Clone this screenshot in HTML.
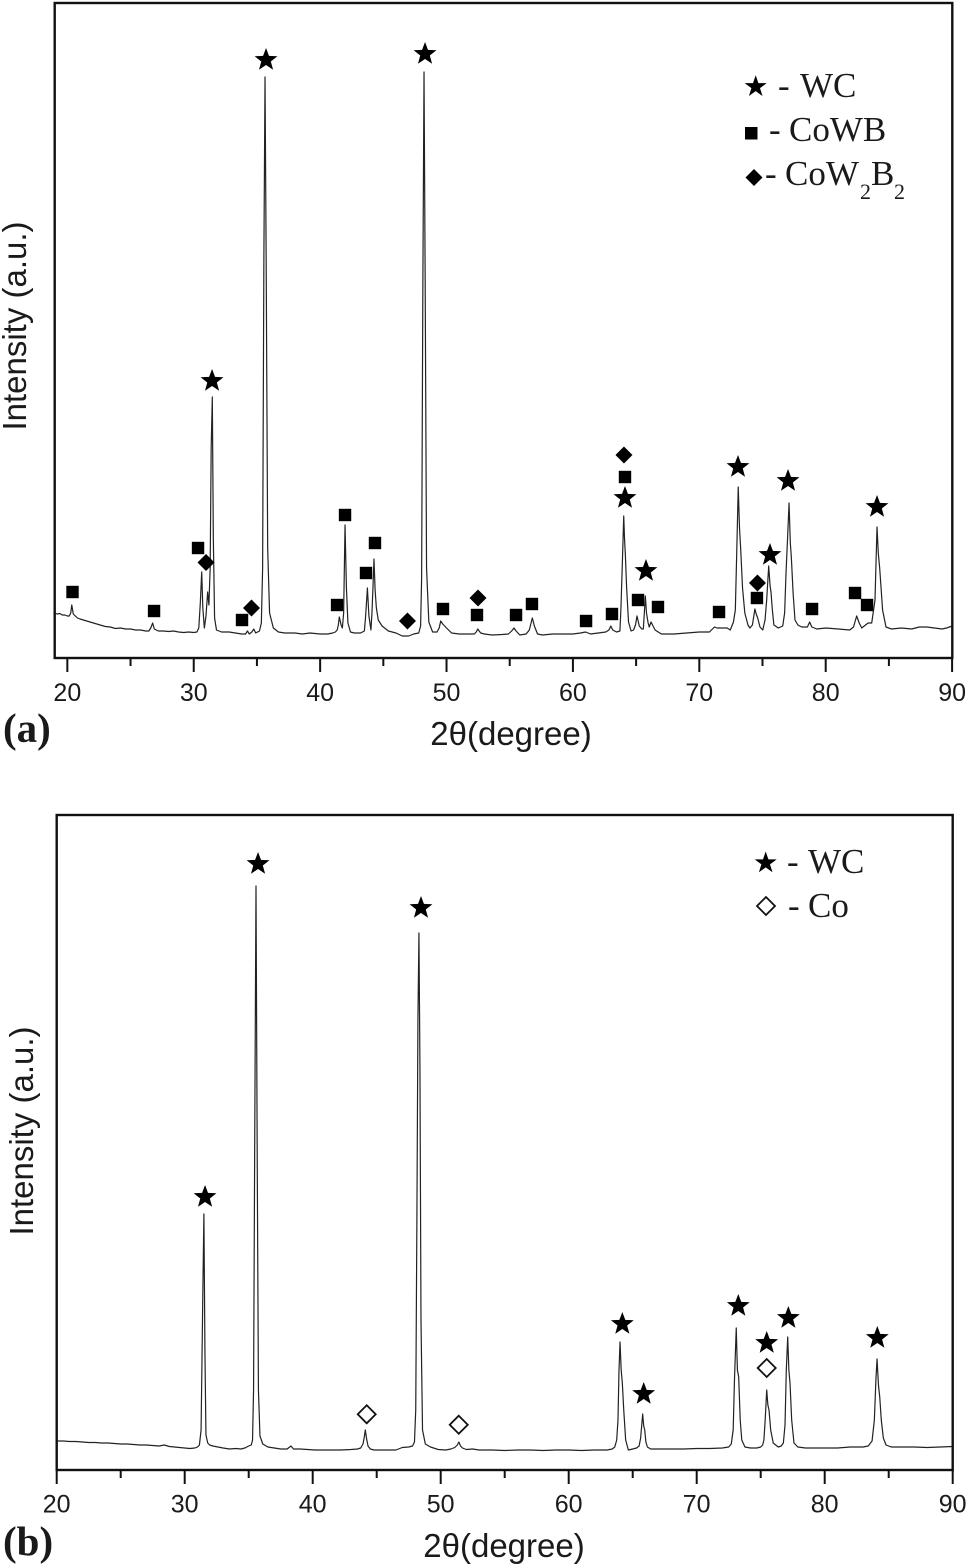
<!DOCTYPE html>
<html lang="en">
<head>
<meta charset="utf-8">
<title>XRD patterns (a) and (b)</title>
<style>
html,body{margin:0;padding:0;background:#fff;width:968px;height:1567px;overflow:hidden}
svg{display:block;filter:blur(0.35px)}
.sans{font-family:"Liberation Sans",Arial,sans-serif;fill:#1a1a1a}
.serif{font-family:"Liberation Serif","Times New Roman",serif;fill:#1a1a1a}
</style>
</head>
<body>
<svg id="figure" xmlns="http://www.w3.org/2000/svg" width="968" height="1567" viewBox="0 0 968 1567">
  <rect width="968" height="1567" fill="#fff"/>
  <g id="panelA"></g>
  <g id="panelB"></g>

  <text class="serif" x="3" y="742" font-size="41" font-weight="bold">(a)</text>
  <text class="serif" x="3" y="1555" font-size="41" font-weight="bold">(b)</text>
  <text class="sans" x="511" y="745" font-size="33" text-anchor="middle">2θ(degree)</text>
  <text class="sans" x="504" y="1557" font-size="33" text-anchor="middle">2θ(degree)</text>
  <text class="sans" font-size="33" text-anchor="middle" transform="translate(26,326) rotate(-90)">Intensity (a.u.)</text>
  <text class="sans" font-size="33" text-anchor="middle" transform="translate(33,1131) rotate(-90)">Intensity (a.u.)</text>

  <g>
    <g>
      <polygon points="755.7,75.2 758.4,83.1 766.7,83.1 760,88.1 762.5,96 755.7,91.1 748.9,96 751.4,88.1 744.7,83.1 753,83.1" fill="#000"/>
      <text class="serif" font-size="35" y="97"><tspan x="778">-</tspan><tspan x="800">WC</tspan></text>
    </g>
    <g>
      <rect x="745" y="127" width="12.5" height="12.5" fill="#000"/>
      <text class="serif" font-size="35" y="141"><tspan x="769">-</tspan><tspan x="789">CoWB</tspan></text>
    </g>
    <g>
      <polygon points="754,169 762.5,177.5 754,186 745.5,177.5" fill="#000"/>
      <text class="serif" font-size="35" y="185"><tspan x="765">-</tspan><tspan x="785">CoW</tspan><tspan x="860" y="199" font-size="22">2</tspan><tspan x="871" y="185">B</tspan><tspan x="894" y="199" font-size="22">2</tspan></text>
    </g>
  </g>

  <g>
    <g>
      <polygon points="765.7,851.5 768.4,859.4 776.7,859.4 770,864.4 772.5,872.3 765.7,867.4 758.9,872.3 761.4,864.4 754.7,859.4 763,859.4" fill="#000"/>
      <text class="serif" font-size="35" y="873"><tspan x="787">-</tspan><tspan x="808">WC</tspan></text>
    </g>
    <g>
      <polygon points="766,897 775,906 766,915 757,906" fill="#fff" stroke="#111" stroke-width="1.8"/>
      <text class="serif" font-size="35" y="917"><tspan x="788">-</tspan><tspan x="808">Co</tspan></text>
    </g>
  </g>
</svg>

<script>
// ---- Panel (a): diffraction pattern (2theta in degrees, intensity in a.u.) ----
const twoThetaA = [
19,19.2,19.4,19.6,19.8,20,20.15,20.27,20.35,20.47,
20.8,21,21.4,21.8,22.2,22.6,23,23.4,23.8,24.2,
24.6,25,25.4,25.8,26.2,26.45,26.6,26.75,26.88,27.2,
27.6,28,28.4,28.8,29.2,29.6,30,30.25,30.4,30.52,
30.63,30.72,30.84,30.97,31.1,31.2,31.3,31.38,31.47,31.55,
31.65,31.8,32.2,32.8,33.3,33.8,34.1,34.25,34.4,34.6,
34.75,34.9,35.2,35.35,35.45,35.55,35.64,35.73,35.85,36,
36.3,36.7,37.2,38,38.6,39.2,40,40.6,41,41.2,
41.35,41.44,41.52,41.66,41.76,41.86,41.97,42.08,42.2,42.4,
42.7,43.2,43.5,43.6,43.74,43.86,44.02,44.1,44.18,44.26,
44.35,44.45,44.6,44.9,45.4,46,46.5,47,47.4,47.8,
47.95,48.03,48.13,48.22,48.31,48.42,48.6,48.9,49.25,49.42,
49.54,49.7,50,50.4,51,51.8,52.2,52.35,52.47,52.7,
53,53.6,54.4,54.9,55.15,55.34,55.5,55.8,56.3,56.55,
56.79,56.95,57.2,57.6,58.4,59.2,60,60.6,61,61.4,
62,62.6,62.85,63,63.15,63.45,63.72,63.8,63.9,64.02,
64.08,64.15,64.25,64.4,64.6,64.8,64.95,65.07,65.25,65.45,
65.57,65.65,65.73,65.82,65.95,66.04,66.18,66.5,67,68,
69,70,70.8,71.2,71.4,71.8,72.2,72.45,72.7,72.85,
72.96,73.08,73.18,73.27,73.42,73.6,73.85,74,74.2,74.4,
74.5,74.62,74.8,75.02,75.2,75.33,75.49,75.6,75.67,75.78,
75.9,76.25,76.6,76.75,76.86,77,77.1,77.2,77.28,77.42,
77.57,77.8,78.1,78.36,78.55,78.73,78.9,79.3,80,81,
81.9,82.2,82.45,82.65,82.85,83.35,83.64,83.9,83.98,84.06,
84.16,84.27,84.38,84.5,84.77,85.2,86,86.8,87.4,88,
88.6,89.2,89.57,90
];
const intensityA = [
45,44,44.5,43,43,42,42,45,53,44,
40,39,37.5,36,34.5,33,31.5,31,29.5,30,
29,29,28,28,27,27,30,35,29,27,
27,26.5,27,26,25.5,26,25.5,26,30,55,
86,50,30,42,66,53,90,210,261,120,
40,28,26,26,25,24,24,27,24,26,
29,25,27,35,90,400,581,400,110,45,
30,26,25,25,24,25,24,24,25,26,
28,33,41,33,30,45,133,70,35,26,
25,25,27,42,70,42,28,45,70,99,
68,50,38,32,27,25,22,22,24,25,
32,80,380,586,380,90,36,26,26,30,
37,34,30,25,24,24,24,26,29,25,
24,23,23.5,24,27,30,27,23,24,28,
40,32,24,23,24,24,24,25,26,24,
25,26,28,32,28,26,27,50,90,142,
120,103,70,36,27,28,33,42,32,29,
29,45,62,45,35,31,36,28,24,24,
25,26,26,31,30,30,30,28,36,48,
105,171,130,110,70,45,33,30,33,49,
44,40,31,28,38,58,92,72,66,48,
33,30,32,45,85,125,155,115,101,65,
38,33,31,31,31,36,31,29,30,29,
28,31,42,35,30,35,35,58,95,131,
105,90,70,48,31,29,30,29,31,31,
30,29,30,32
];
const majorTicksA = [20,30,40,50,60,70,80,90];
const minorTicksA = [25,35,45,55,65,75,85];

// phase annotations for panel (a)
const starThetaA = [35.72,48.30,31.45,73.06,77.02,84.06,75.59,65.78,64.12];
const starHeightA = [599,605,278,192,178,152,104,88,161];
const squareThetaA = [20.41,26.86,30.34,33.82,41.34,41.97,43.63,44.34,49.72,52.41,55.5,56.76,61.04,63.09,64.12,65.15,66.73,71.56,74.56,78.92,82.32,83.27];
const squareHeightA = [66,47,110,38,53,143,85,115,49,43,43,54,37,44,181,58,51,46,60,49,65,53];
const diamondThetaA = [30.97,34.57,46.91,52.49,64.04,74.6];
const diamondHeightA = [95.5,50,37,60,203,75];

// ---- Panel (b) ----
const twoThetaB = [
20,20.5,21,21.5,22,22.5,23,23.5,24,24.5,
25,25.5,26,26.5,27,27.5,28,28.4,28.8,29.2,
29.6,30,30.4,30.8,31,31.15,31.28,31.36,31.44,31.5,
31.58,31.66,31.8,31.95,32.2,32.6,33,33.5,34,34.4,
34.7,35,35.2,35.3,35.38,35.47,35.57,35.67,35.76,35.88,
36.1,36.5,37,37.5,38,38.3,38.5,39,39.6,40.2,
40.8,41.5,42.2,43,43.5,43.75,43.93,44.03,44.11,44.2,
44.32,44.5,44.8,45.4,46,46.5,47,47.5,47.8,47.95,
48.05,48.14,48.22,48.3,48.38,48.46,48.58,48.8,49.2,49.8,
50.4,50.8,51.1,51.3,51.42,51.55,51.7,52,52.5,53,
54,55,56,57,58,59,60,61,62,63,
63.4,63.6,63.75,63.85,63.93,64.01,64.1,64.19,64.3,64.45,
64.66,65,65.3,65.5,65.62,65.78,65.86,65.94,66.03,66.15,
66.4,67,68,69,70,71,72,72.5,72.7,72.85,
72.95,73.09,73.18,73.28,73.4,73.52,73.77,74.2,74.7,75,
75.15,75.25,75.35,75.47,75.56,75.65,75.78,75.98,76.37,76.6,
76.77,76.9,77,77.11,77.2,77.29,77.42,77.6,77.9,78.5,
79,80,81,82,83,83.4,83.7,83.88,84,84.09,
84.2,84.3,84.42,84.58,84.79,85.2,86,87,88,89,90
];
const intensityB = [
29,29,28.5,28.5,28,27.5,27.5,27,27,26.5,
26,26,25.5,25,25,24.5,24,25,23.5,23,
22.5,22,21.5,22,23,25,40,120,200,256,
120,35,27,25,24,23,22,21,21.5,21,
22,24,25,30,80,330,584,300,80,34,
26,23,22,21,21,24,21,21,20.5,20,
20,20,20,20.5,21,22,26,33,40,32,
24,21,20,20,20,20,22.5,23,24,28,
60,250,450,537,400,150,40,26,23,20.5,
20,21,22.5,25,28,24,22,20.5,21,20,
20,19.5,20,20,19.5,20,20,19.5,20,20,
21,23,30,50,100,128,100,87,60,30,
20,21,22,24,32,56,44,40,28,23,
21,21,21,21,21.5,21.5,22,23,26,40,
90,142,100,93,50,30,23,22,22,23,
25,30,50,80,65,60,40,27,23,24,
27,45,100,133,100,87,50,27,23,22,
22,22,22,23,23,24,29,50,90,111,
85,73,50,32,25,23,23,23,22.5,23,23.5
];
const majorTicksB = [20,30,40,50,60,70,80,90];
const minorTicksB = [25,35,45,55,65,75,85];

const starThetaB = [31.59,35.73,48.46,64.19,65.86,73.25,75.47,77.16,84.11];
const starHeightB = [274,607,563,147,77,165,128,153,133];
const openDiamondThetaB = [44.22,51.41,75.47];
const openDiamondHeightB = [55.7,45.3,102];

const SVG_NS = 'http://www.w3.org/2000/svg';

function make(parent, tag, attrs) {
  const el = document.createElementNS(SVG_NS, tag);
  Object.keys(attrs).forEach(function (k) { el.setAttribute(k, attrs[k]); });
  parent.appendChild(el);
  return el;
}

function linearScale(d0, d1, r0, r1) {
  return function (v) { return r0 + (v - d0) * (r1 - r0) / (d1 - d0); };
}

function starPoints(cx, cy, R) {
  const r = R * 0.42;
  const pts = [];
  for (let i = 0; i < 10; i++) {
    const rad = i % 2 === 0 ? R : r;
    const a = -Math.PI / 2 + i * Math.PI / 5;
    pts.push((cx + rad * Math.cos(a)).toFixed(2) + ',' + (cy + rad * Math.sin(a)).toFixed(2));
  }
  return pts.join(' ');
}

function drawStars(g, xs, ys, sx, sy) {
  const n = Math.min(xs.length, ys.length);
  for (let i = 0; i < n; i++) {
    const el = make(g, 'polygon', { points: starPoints(sx(xs[i]), sy(ys[i]) + 1, 12), fill: '#000' });
    
    
  }
}

function drawSquares(g, xs, ys, sx, sy) {
  const n = Math.min(xs.length, ys.length);
  for (let i = 0; i < n; i++) {
    const el = make(g, 'rect', { x: sx(xs[i]) - 6.2, y: sy(ys[i]) - 6.2, width: 12.4, height: 12.4, fill: '#000' });
    
    
  }
}

function diamondPoints(cx, cy, h) {
  return [cx + ',' + (cy - h), (cx + h) + ',' + cy, cx + ',' + (cy + h), (cx - h) + ',' + cy].join(' ');
}

function drawDiamonds(g, xs, ys, sx, sy) {
  const n = Math.min(xs.length, ys.length);
  for (let i = 0; i < n; i++) {
    const el = make(g, 'polygon', { points: diamondPoints(sx(xs[i]), sy(ys[i]), 8.5), fill: '#000' });
    
    
  }
}

function drawOpenDiamonds(g, xs, ys, sx, sy) {
  const n = Math.min(xs.length, ys.length);
  for (let i = 0; i < n; i++) {
    const el = make(g, 'polygon', { points: diamondPoints(sx(xs[i]), sy(ys[i]), 9), fill: '#fff', stroke: '#111', 'stroke-width': 1.8 });
    
    
  }
}

function drawFrame(g, xs, ys, box) {
  const n = Math.min(xs.length, ys.length);
  const pts = [];
  for (let i = 0; i < n; i++) {
    pts.push(box.sx(xs[i]).toFixed(2) + ',' + box.sy(ys[i]).toFixed(2));
  }
  const line = make(g, 'polyline', { points: pts.join(' '), fill: 'none', stroke: '#222', 'stroke-width': 1.2, 'stroke-linejoin': 'round' });
  
  

  const frame = make(g, 'rect', {
    x: box.left, y: box.top, width: box.right - box.left, height: box.bottom - box.top,
    fill: 'none', stroke: '#111', 'stroke-width': 2.4
  });
  
  

  box.major.forEach(function (t) {
    const x = box.sx(t);
    const tick = make(g, 'line', { x1: x, x2: x, y1: box.bottom, y2: box.bottom + 14, stroke: '#111', 'stroke-width': 2 });
    
    
    const lab = make(g, 'text', { x: x, y: box.labelY, 'font-size': 25, 'text-anchor': 'middle', class: 'sans' });
    
    
    lab.textContent = String(t);
  });
  box.minor.forEach(function (t) {
    const x = box.sx(t);
    const tick = make(g, 'line', { x1: x, x2: x, y1: box.bottom, y2: box.bottom + 8, stroke: '#111', 'stroke-width': 2 });
    
    
  });
}

// Panel (a)
const sxA = linearScale(19, 90, 54.7, 952.1);
const syA = linearScale(0, 655, 658, 3);
const gA = document.getElementById('panelA');
drawFrame(gA, twoThetaA, intensityA, {
  sx: sxA, sy: syA, left: 54.7, right: 952.3, top: 3, bottom: 658,
  major: majorTicksA, minor: minorTicksA, labelY: 701
});
drawStars(gA, starThetaA, starHeightA, sxA, syA);
drawSquares(gA, squareThetaA, squareHeightA, sxA, syA);
drawDiamonds(gA, diamondThetaA, diamondHeightA, sxA, syA);

// Panel (b)
const sxB = linearScale(20, 90, 56.7, 952.7);
const syB = linearScale(0, 655, 1470, 815);
const gB = document.getElementById('panelB');
drawFrame(gB, twoThetaB, intensityB, {
  sx: sxB, sy: syB, left: 56.7, right: 952.7, top: 815, bottom: 1470,
  major: majorTicksB, minor: minorTicksB, labelY: 1512.5
});
drawStars(gB, starThetaB, starHeightB, sxB, syB);
drawOpenDiamonds(gB, openDiamondThetaB, openDiamondHeightB, sxB, syB);
</script>
</body>
</html>
